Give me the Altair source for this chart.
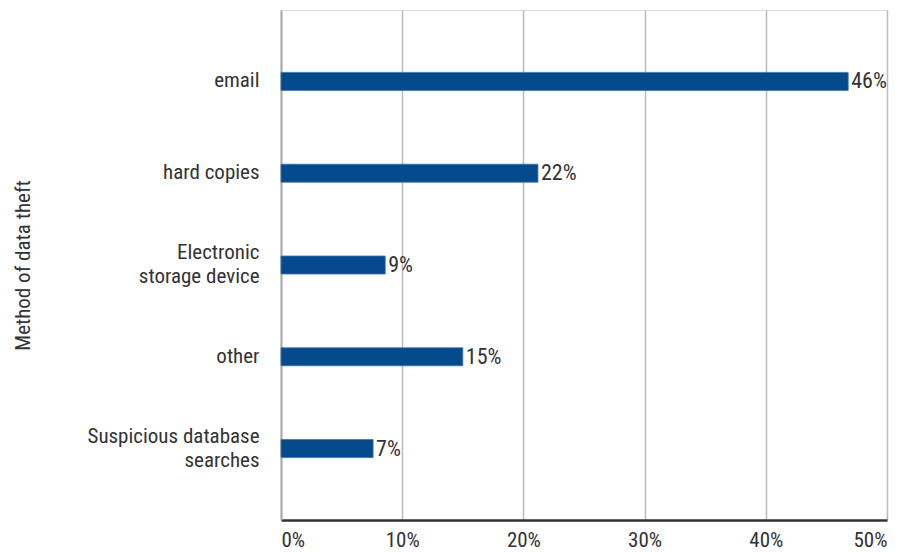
import altair as alt
import pandas as pd

categories = ["email", "hard copies", "Electronic|storage device", "other",
              "Suspicious database|searches"]
values = [46.8, 21.2, 8.6, 15.0, 7.6]
labels = ["46%", "22%", "9%", "15%", "7%"]
x_ticks = [0, 10, 20, 30, 40, 50]

df = pd.DataFrame({"cat": categories, "val": values, "lab": labels})

FONT = "Liberation Sans Narrow, Roboto Condensed, Roboto"

y_enc = alt.Y(
    "cat:N",
    sort=categories,
    scale=alt.Scale(paddingInner=0.804, paddingOuter=0.68),
    axis=alt.Axis(
        title="Method of data theft",
        titleFont=FONT, titleFontSize=21, titleFontWeight="normal",
        titleColor="#333333", titleX=-258, titleBaseline="middle",
        labelFont=FONT, labelFontSize=21, labelColor="#333333",
        labelPadding=22, labelLineHeight=24, labelBaseline="middle",
        labelExpr="split(datum.label, '|')",
        labelOffset={"condition": {"test": "indexof(datum.value, '|') >= 0", "value": -12},
                     "value": 0},
        ticks=False, grid=False,
        domainColor="#aaaaaa", domainWidth=2,
    ),
)

x_enc = alt.X(
    "val:Q",
    scale=alt.Scale(domain=[0, 50], nice=False),
    axis=alt.Axis(
        title=None, values=x_ticks,
        labelExpr="datum.value + '%'",
        labelFont=FONT, labelFontSize=21, labelColor="#333333",
        labelPadding=9, ticks=False, labelFlush=True,
        grid=True, gridColor="#bbbbbb", gridWidth=1.5,
        domainColor="#333333", domainWidth=2.5,
    ),
)

bars = alt.Chart(df).mark_bar(color="#054a8c", stroke="#3a74b5", strokeWidth=0.8).encode(
    x=x_enc, y=y_enc
)

text = alt.Chart(df).mark_text(
    align="left", baseline="middle", dx=3, font=FONT, fontSize=22, color="#333333"
).encode(
    x=alt.X("val:Q"), y=alt.Y("cat:N", sort=categories), text="lab:N"
)

chart = alt.layer(bars, text).properties(
    width=606, height=510,
    autosize=alt.AutoSizeParams(type="none"),
    padding={"left": 281, "top": 10, "right": 35, "bottom": 32},
).configure_view(stroke=None).configure(background="white")

chart.save("out.html", embed_options={"renderer": "svg", "actions": False})
